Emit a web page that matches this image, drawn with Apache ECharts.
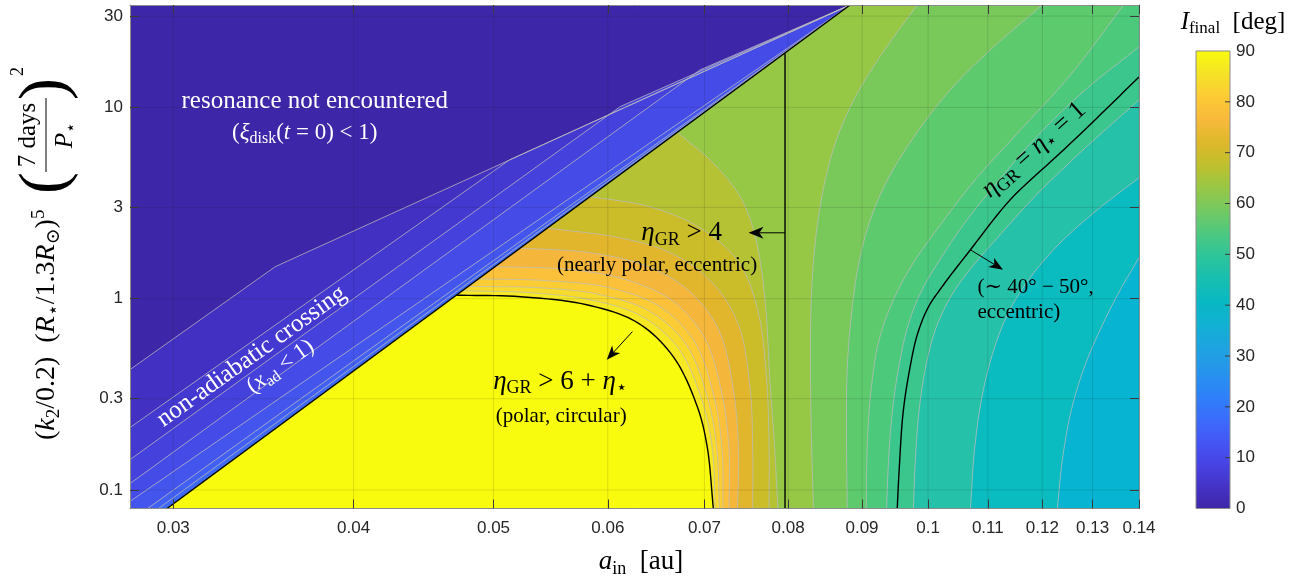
<!DOCTYPE html>
<html><head><meta charset="utf-8">
<script src="https://cdn.jsdelivr.net/npm/echarts@6/dist/echarts.min.js"></script>
<style>html,body{margin:0;padding:0;background:#fff}#c{width:1313px;height:581px}</style>
</head><body><div id="c"></div>
<script>
// ---------- axes ----------
const X_MIN = 0.028, X_MAX = 0.14, Y_MIN = 0.08, Y_MAX = 34.3;
const xTicks = [0.03, 0.04, 0.05, 0.06, 0.07, 0.08, 0.09, 0.1, 0.11, 0.12, 0.13, 0.14];
const yTicks = [0.1, 0.3, 1, 3, 10, 30];
const cbTicks = [0, 10, 20, 30, 40, 50, 60, 70, 80, 90];

// ---------- boundary curves (a_in [au], y) ----------
const resonanceEdge = [[0.0297, 0.08], [0.0883, 34.3]];
const etaGR4Edge = [[0.0796, 0.08], [0.0796, 19.2]];
const polarEdge = [[0.0471, 1.043], [0.0522, 1.024], [0.0580, 0.930], [0.0629, 0.750], [0.0666, 0.498], [0.0692, 0.273], [0.0703, 0.169], [0.0710, 0.08]];
const etaOneEdge = [[0.14, 14.43], [0.1316, 9.14], [0.1235, 5.786], [0.1140, 3.289], [0.1070, 1.803], [0.1025, 1.183], [0.1000, 0.8974], [0.0983, 0.6486], [0.0971, 0.4258], [0.0961, 0.2539], [0.0955, 0.1279], [0.0952, 0.08]];

// ---------- contours in the non-adiabatic strip (low -> high) ----------
const stripA = [[0.028, 0.426], [0.0353, 1.47], [0.0883, 34.3]];
const stripB = [[0.028, 0.212], [0.0513, 5.32], [0.0883, 34.3]];
const stripC = [[0.028, 0.144], [0.0612, 10.1], [0.0883, 34.3]];
const stripD = [[0.028, 0.108], [0.0695, 15.7], [0.0883, 34.3]];
const stripE = [[0.028, 0.0871], [0.0883, 34.3]];
const stripF = [[0.0288, 0.08], [0.0883, 34.3]];
const stripG = [[0.0293, 0.08], [0.0883, 34.3]];

// ---------- contours right of the resonance edge (low -> high) ----------
const cU3 = [[0.14, 1.637], [0.1359, 1.114], [0.1321, 0.7315], [0.1285, 0.4520], [0.1257, 0.2633], [0.1239, 0.1443], [0.1229, 0.08]];
const cU2 = [[0.14, 4.284], [0.1310, 2.916], [0.1231, 1.914], [0.1174, 1.257], [0.1135, 0.8249], [0.1108, 0.5102], [0.1089, 0.2970], [0.1077, 0.1627], [0.1070, 0.08]];
const cU1 = [[0.14, 10.94], [0.1285, 6.144], [0.1187, 3.451], [0.1117, 2.082], [0.1066, 1.384], [0.1036, 1.012], [0.1013, 0.7059], [0.0997, 0.4520], [0.0986, 0.2633], [0.0980, 0.1443], [0.0977, 0.08]];
const cT4 = [[0.14, 20.70], [0.1285, 12.34], [0.1187, 6.928], [0.1113, 3.938], [0.1058, 2.434], [0.1017, 1.561], [0.0989, 1.088], [0.0969, 0.7315], [0.0955, 0.4520], [0.0945, 0.2633], [0.0939, 0.1443], [0.0936, 0.08]];
const cT3 = [[0.1366, 34.3], [0.1255, 14.78], [0.1159, 7.629], [0.1078, 4.182], [0.1020, 2.434], [0.0975, 1.505], [0.0945, 0.965], [0.0925, 0.6107], [0.0914, 0.3556], [0.0908, 0.1835], [0.0906, 0.08]];
const cT2 = [[0.1200, 34.3], [0.1110, 20.70], [0.1036, 12.34], [0.0980, 7.184], [0.0939, 4.284], [0.0912, 2.585], [0.0895, 1.505], [0.0885, 0.8249], [0.0879, 0.4258], [0.0878, 0.207], [0.0879, 0.08]];
const cT1 = [[0.0983, 34.3], [0.0933, 19.97], [0.0892, 11.62], [0.0864, 6.766], [0.0846, 3.709], [0.0835, 1.914], [0.0830, 0.988], [0.0829, 0.480], [0.0830, 0.207], [0.0833, 0.08]];
const cG8 = [[0.06704, 7.414], [0.0712, 5.01], [0.0743, 3.29], [0.0760, 2.03], [0.0771, 0.988], [0.0777, 0.378], [0.0783, 0.163], [0.0787, 0.08]];
const cG7 = [[0.05833, 3.418], [0.0642, 3.02], [0.0695, 2.35], [0.0739, 1.56], [0.0762, 0.876], [0.0773, 0.378], [0.0776, 0.163], [0.0776, 0.08]];
const cG6 = [[0.05447, 2.338], [0.0612, 2.08], [0.0665, 1.72], [0.0709, 1.21], [0.0739, 0.732], [0.0753, 0.335], [0.0756, 0.163], [0.0756, 0.08]];
const cG5 = [[0.05217, 1.840], [0.0583, 1.74], [0.0637, 1.49], [0.0682, 1.11], [0.0716, 0.689], [0.0733, 0.335], [0.0739, 0.163], [0.0738, 0.08]];
const cG4 = [[0.05013, 1.473], [0.0565, 1.42], [0.0617, 1.26], [0.0665, 0.976], [0.0700, 0.626], [0.0720, 0.315], [0.0728, 0.163], [0.0728, 0.08]];
const cG3 = [[0.04880, 1.270], [0.0547, 1.24], [0.0602, 1.14], [0.0652, 0.908], [0.0689, 0.596], [0.0711, 0.304], [0.0720, 0.163], [0.0721, 0.08]];
const cG2 = [[0.04801, 1.159], [0.0539, 1.14], [0.0593, 1.049], [0.0642, 0.855], [0.0680, 0.575], [0.0704, 0.297], [0.0714, 0.163], [0.0717, 0.08]];
const cG1 = [[0.04756, 1.100], [0.0530, 1.075], [0.0583, 0.988], [0.0632, 0.815], [0.0671, 0.555], [0.0697, 0.297], [0.0709, 0.163], [0.0712, 0.08]];

// ---------- styles ----------
const stripColors = ['#3E26A8', '#4130C1', '#4338CF', '#4541DC', '#454BE6', '#4455EE', '#425FF3', '#3E69F6'];
const rightColors = ['#07B4D1', '#0ABBBF', '#25C1A9', '#3AC68C', '#4CC97B', '#5DCA6D', '#79C95A', '#97C845',
  '#B4C233', '#CBBC29', '#E1B52C', '#F4B73B', '#FCC13A', '#FBCC34', '#F8DA2C', '#F6E923', '#F9FB0E'];
const parulaStops = [[0, '#3E26A8'], [0.05, '#4533C7'], [0.1, '#4744E4'], [0.15, '#4458F5'], [0.2, '#3A6EFC'],
  [0.25, '#2D82F8'], [0.3, '#2694EC'], [0.35, '#1EA3E0'], [0.4, '#12B0D4'], [0.45, '#08B8C4'], [0.5, '#17BEB0'],
  [0.55, '#2DC49B'], [0.6, '#4CC880'], [0.65, '#73C962'], [0.7, '#98C746'], [0.75, '#BEC02E'], [0.8, '#DEB82A'],
  [0.85, '#F8B93C'], [0.9, '#FDCB35'], [0.95, '#F5E327'], [1, '#F9FB0E']];
const SERIF = '"Liberation Serif","DejaVu Serif",serif';
const SANS = '"Liberation Sans",Arial,sans-serif';
const LINE_GRAY = 'rgba(190,190,190,0.75)';

const L = Math.log10;
const stripLines = [stripA, stripB, stripC, stripD, stripE, stripF, stripG];
const rightLines = [cU3, cU2, cU1, cT4, cT3, cT2, cT1, cG8, cG7, cG6, cG5, cG4, cG3, cG2, cG1];

// ---------- fill polygons (superlevel sets, painted low -> high) ----------
const DB = resonanceEdge[0], DT = resonanceEdge[1];
function stripTail(line) {
  const p = [[X_MAX, Y_MAX], [X_MAX, Y_MIN]];
  if (line[0][0] <= X_MIN + 1e-9) p.push([X_MIN, Y_MIN]);
  return p;
}
function rightTail(c) {
  const p = [DB];
  if (c[0][1] >= Y_MAX - 1e-9) p.push(DT);
  else if (c[0][0] >= X_MAX - 1e-9) p.push(DT, [X_MAX, Y_MAX]);
  return p;
}
const FILLS = [];
FILLS.push({curve: [[X_MIN, Y_MIN], [X_MIN, Y_MAX], [X_MAX, Y_MAX], [X_MAX, Y_MIN]], smooth: false, tail: [], color: stripColors[0]});
stripLines.forEach((s, i) => FILLS.push({curve: s, smooth: false, tail: stripTail(s), color: stripColors[i + 1]}));
FILLS.push({curve: [DB, DT, [X_MAX, Y_MAX], [X_MAX, Y_MIN]], smooth: false, tail: [], color: rightColors[0]});
rightLines.forEach((c, i) => FILLS.push({curve: c, smooth: true, tail: rightTail(c), color: rightColors[i + 1]}));
FILLS.push({curve: polarEdge, smooth: true, tail: [DB], color: rightColors[16]});

const GRAY_LINES = stripLines.map(c => ({curve: c, smooth: false})).concat(rightLines.map(c => ({curve: c, smooth: true})));
const BLACK_LINES = [{curve: resonanceEdge, smooth: false}, {curve: etaGR4Edge, smooth: false},
  {curve: polarEdge, smooth: true}, {curve: etaOneEdge, smooth: true}];
const GRID_LINES = xTicks.map(t => [[t, Y_MIN], [t, Y_MAX]]).concat(yTicks.map(t => [[X_MIN, t], [X_MAX, t]]));

// centripetal Catmull-Rom through the read points (pixel space, rendering only)
function spline(P, n) {
  if (P.length < 3) return P;
  const out = [P[0]];
  const ext = (a, b) => [2 * a[0] - b[0], 2 * a[1] - b[1]];
  const d = (a, b) => Math.max(Math.pow(Math.hypot(b[0] - a[0], b[1] - a[1]), 0.5), 1e-4);
  for (let i = 0; i < P.length - 1; i++) {
    const p0 = i > 0 ? P[i - 1] : ext(P[0], P[1]);
    const p1 = P[i], p2 = P[i + 1];
    const p3 = i + 2 < P.length ? P[i + 2] : ext(P[P.length - 1], P[P.length - 2]);
    const t0 = 0, t1 = t0 + d(p0, p1), t2 = t1 + d(p1, p2), t3 = t2 + d(p2, p3);
    for (let k = 1; k <= n; k++) {
      const t = t1 + (t2 - t1) * k / n;
      const lerp = (a, b, ta, tb) => [(tb - t) / (tb - ta) * a[0] + (t - ta) / (tb - ta) * b[0], (tb - t) / (tb - ta) * a[1] + (t - ta) / (tb - ta) * b[1]];
      const A1 = lerp(p0, p1, t0, t1), A2 = lerp(p1, p2, t1, t2), A3 = lerp(p2, p3, t2, t3);
      const B1 = lerp(A1, A2, t0, t2), B2 = lerp(A2, A3, t1, t3);
      out.push(lerp(B1, B2, t1, t2));
    }
  }
  return out;
}

function richFor(F, color) {
  const b = {fontFamily: SERIF, fill: color};
  const lh = Math.round(F * 1.2), sf = Math.round(F * 0.68), sl = Math.round(F * 0.55);
  return {
    n: Object.assign({fontSize: F, lineHeight: lh}, b),
    i: Object.assign({fontSize: F, lineHeight: lh, fontStyle: 'italic'}, b),
    sub: Object.assign({fontSize: sf, lineHeight: sl, verticalAlign: 'bottom'}, b),
    sup: Object.assign({fontSize: sf, lineHeight: sl, verticalAlign: 'top'}, b)
  };
}

// ---------- annotations (anchored in data coordinates) ----------
const NOTES = [
  {at: [0.0376, 10.68], text: '{n|resonance not encountered}', color: '#fff', size: 25},
  {at: [0.0370, 7.36], text: '{n|(}{i|ξ}{sub|disk}{n|(}{i|t}{n| = 0) < 1)}', color: '#fff', size: 23},
  {at: [0.0340, 0.498], rot: 35.4, text: '{n|non-adiabatic crossing}', color: '#fff', size: 25},
  {at: [0.0356, 0.441], rot: 35.4, text: '{n|(}{i|x}{sub|ad}{n| < 1)}', color: '#fff', size: 23},
  {at: [0.0675, 2.21], text: '{i|η}{sub|GR}{n| > 4}', color: '#000', size: 27},
  {at: [0.0649, 1.487], text: '{n|(nearly polar, eccentric)}', color: '#000', size: 21},
  {at: [0.0556, 0.3686], text: '{i|η}{sub|GR}{n| > 6 + }{i|η}{sub|⋆}', color: '#000', size: 27},
  {at: [0.0557, 0.2419], text: '{n|(polar, circular)}', color: '#000', size: 21},
  {at: [0.1184, 6.0], rot: 41.8, text: '{i|η}{sub|GR}{n| = }{i|η}{sub|⋆}{n| = 1}', color: '#000', size: 26},
  {at: [0.1082, 1.141], align: 'left', text: '{n|(∼ 40° − 50°,}', color: '#000', size: 21},
  {at: [0.1082, 0.845], align: 'left', text: '{n|eccentric)}', color: '#000', size: 21}
];
const ARROWS = [
  {from: [0.0796, 2.21], to: [0.0751, 2.21], hl: 15, hw: 6},
  {from: [0.0624, 0.6725], to: [0.0599, 0.480], hl: 14, hw: 5.5},
  {from: [0.1070, 1.80], to: [0.1127, 1.417], hl: 14, hw: 5.5}
];

const idx = arr => arr.map((_, i) => [L(X_MIN), L(Y_MIN), i]);
const C = (api, p) => api.coord([L(p[0]), L(p[1])]);
const path = (api, c, sm) => { const p = c.map(q => C(api, q)); return sm ? spline(p, 10) : p; };
const fmt = list => v => { const t = list.find(t => Math.abs(L(t) - v) < 1e-6); return t === undefined ? '' : String(t); };

const axisCommon = {
  type: 'value', z: 10,
  axisLine: {show: true, onZero: false, lineStyle: {color: '#8c8c8c', width: 1}},
  splitLine: {show: false}
};
function mkX(pos, labels) {
  return Object.assign({}, axisCommon, {
    gridIndex: 0, position: pos, min: L(X_MIN), max: L(X_MAX),
    axisTick: {show: true, inside: true, length: 9, customValues: xTicks.map(L), lineStyle: {color: '#3a3a3a'}},
    axisLabel: {show: labels, customValues: xTicks.map(L), formatter: fmt(xTicks), fontSize: 17, color: '#262626', margin: 11, fontFamily: SANS}
  });
}
function mkY(pos, labels) {
  return Object.assign({}, axisCommon, {
    gridIndex: 0, position: pos, min: L(Y_MIN), max: L(Y_MAX),
    axisTick: {show: true, inside: true, length: 9, customValues: yTicks.map(L), lineStyle: {color: '#3a3a3a'}},
    axisLabel: {show: labels, customValues: yTicks.map(L), formatter: fmt(yTicks), fontSize: 17, color: '#262626', margin: 7, fontFamily: SANS}
  });
}

const option = {
  animation: false,
  grid: [{left: 130, top: 5, width: 1009, height: 503.5}, {left: 1196, top: 51, width: 34, height: 457.5}],
  xAxis: [mkX('bottom', true), mkX('top', false), {gridIndex: 1, type: 'value', min: 0, max: 1, show: false}],
  yAxis: [mkY('left', true), mkY('right', false),
    {gridIndex: 1, type: 'value', position: 'right', min: cbTicks[0], max: cbTicks[cbTicks.length - 1], interval: 10, z: 10,
      axisLine: {show: false}, splitLine: {show: false}, axisTick: {show: false},
      axisLabel: {fontSize: 17, color: '#262626', margin: 6, fontFamily: SANS}}],
  series: [
    {type: 'custom', name: 'fills', xAxisIndex: 0, yAxisIndex: 0, z: 1, clip: true, silent: true, data: idx(FILLS),
      renderItem: (p, api) => { const f = FILLS[api.value(2)];
        const pts = path(api, f.curve, f.smooth).concat(f.tail.map(q => C(api, q)));
        return {type: 'polygon', shape: {points: pts}, style: {fill: f.color}}; }},
    {type: 'custom', name: 'contours', xAxisIndex: 0, yAxisIndex: 0, z: 2, clip: true, silent: true, data: idx(GRAY_LINES),
      renderItem: (p, api) => { const g = GRAY_LINES[api.value(2)];
        return {type: 'polyline', shape: {points: path(api, g.curve, g.smooth)}, style: {stroke: LINE_GRAY, lineWidth: 1, fill: null}}; }},
    {type: 'custom', name: 'grid', xAxisIndex: 0, yAxisIndex: 0, z: 3, clip: true, silent: true, data: idx(GRID_LINES),
      renderItem: (p, api) => { const g = GRID_LINES[api.value(2)]; const a = C(api, g[0]), b = C(api, g[1]);
        return {type: 'line', shape: {x1: a[0], y1: a[1], x2: b[0], y2: b[1]}, style: {stroke: 'rgba(30,30,30,0.13)', lineWidth: 1}}; }},
    {type: 'custom', name: 'edges', xAxisIndex: 0, yAxisIndex: 0, z: 4, clip: true, silent: true, data: idx(BLACK_LINES),
      renderItem: (p, api) => { const g = BLACK_LINES[api.value(2)];
        return {type: 'polyline', shape: {points: path(api, g.curve, g.smooth)}, style: {stroke: '#000', lineWidth: 1.4, fill: null}}; }},
    {type: 'custom', name: 'arrows', xAxisIndex: 0, yAxisIndex: 0, z: 5, silent: true, data: idx(ARROWS),
      renderItem: (p, api) => { const r = ARROWS[api.value(2)];
        const a = C(api, r.from), b = C(api, r.to);
        const dx = b[0] - a[0], dy = b[1] - a[1], len = Math.hypot(dx, dy), ux = dx / len, uy = dy / len, nx = -uy, ny = ux;
        const bx = b[0] - ux * r.hl, by = b[1] - uy * r.hl, mx = b[0] - ux * r.hl * 0.72, my = b[1] - uy * r.hl * 0.72;
        return {type: 'group', children: [
          {type: 'line', shape: {x1: a[0], y1: a[1], x2: mx, y2: my}, style: {stroke: '#000', lineWidth: 1}},
          {type: 'polygon', shape: {points: [b, [bx + nx * r.hw, by + ny * r.hw], [mx, my], [bx - nx * r.hw, by - ny * r.hw]]}, style: {fill: '#000'}}
        ]}; }},
    {type: 'custom', name: 'notes', xAxisIndex: 0, yAxisIndex: 0, z: 6, silent: true, data: idx(NOTES),
      renderItem: (p, api) => { const n = NOTES[api.value(2)]; const c = C(api, n.at);
        return {type: 'text', x: c[0], y: c[1], rotation: (n.rot || 0) * Math.PI / 180,
          style: {text: n.text, rich: richFor(n.size, n.color), align: n.align || 'center', verticalAlign: 'middle'}}; }},
    {type: 'custom', name: 'colorbar', xAxisIndex: 2, yAxisIndex: 2, z: 1, silent: true, data: [[0, 0]],
      renderItem: (p, api) => { const top = cbTicks[cbTicks.length - 1], a = api.coord([0, top]), b = api.coord([1, cbTicks[0]]);
        const ticks = cbTicks.slice(1, -1).map(v => { const q = api.coord([1, v]);
          return {type: 'line', shape: {x1: q[0] - 5, y1: q[1], x2: q[0], y2: q[1]}, style: {stroke: '#3a3a3a', lineWidth: 1}}; });
        return {type: 'group', children: [{type: 'rect', shape: {x: a[0], y: a[1], width: b[0] - a[0], height: b[1] - a[1]},
          style: {fill: new echarts.graphic.LinearGradient(0, 0, 0, 1, parulaStops.map(s => ({offset: 1 - s[0], color: s[1]})).reverse()),
            stroke: '#8c8c8c', lineWidth: 1}}].concat(ticks)}; }}
  ],
  graphic: [
    {type: 'text', x: 641, y: 562, style: {text: '{i|a}{sub|in}{n|  [au]}', rich: richFor(27, '#000'), align: 'center', verticalAlign: 'middle'}},
    {type: 'text', x: 1233, y: 22, style: {text: '{i|I}{sub|final}{n|  [deg]}', rich: richFor(25, '#000'), align: 'center', verticalAlign: 'middle'}},
    {type: 'group', x: 47, y: 252, rotation: Math.PI / 2, children: [
      {type: 'text', x: -188, y: 0, style: {text: '{n|(}{i|k}{sub|2}{n|/0.2)  (}{i|R}{sub|⋆}{n|/1.3}{i|R}{sub|⊙}{n|)}{sup|5}', rich: richFor(28, '#000'), align: 'left', verticalAlign: 'middle'}},
      {type: 'text', x: 58, y: 0, style: {text: '(', font: '66px ' + SERIF, fill: '#000', align: 'left', verticalAlign: 'middle'}},
      {type: 'text', x: 117, y: -19, style: {text: '7 days', font: '25px ' + SERIF, fill: '#000', align: 'center', verticalAlign: 'middle'}},
      {type: 'line', shape: {x1: 80, y1: -1, x2: 154, y2: -1}, style: {stroke: '#000', lineWidth: 1}},
      {type: 'text', x: 117, y: 18, style: {text: '{i|P}{sub|⋆}', rich: richFor(25, '#000'), align: 'center', verticalAlign: 'middle'}},
      {type: 'text', x: 152, y: 0, style: {text: ')', font: '66px ' + SERIF, fill: '#000', align: 'left', verticalAlign: 'middle'}},
      {type: 'text', x: 176, y: -29, style: {text: '2', font: '18px ' + SERIF, fill: '#000', align: 'left', verticalAlign: 'middle'}}
    ]}
  ]
};
const chart = echarts.init(document.getElementById('c'), null, {renderer: 'canvas'});
chart.setOption(option);
</script></body></html>
